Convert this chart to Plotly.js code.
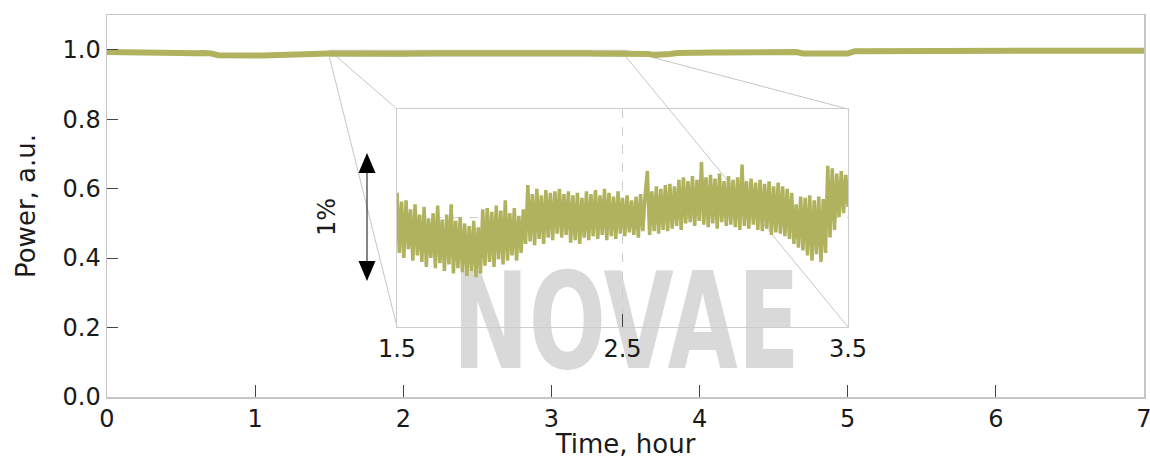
<!DOCTYPE html>
<html><head><meta charset="utf-8">
<script src="https://cdn.plot.ly/plotly-3.0.1.min.js"></script>
<style>html,body{margin:0;padding:0;background:#fff}#chart{width:1150px;height:459px}</style>
</head><body><div id="chart"></div>
<script>
// ---- data: main record (hours 0..7, sampled every 0.05 h) ----
const mainStartHour = 0;
const mainStepHour = 0.05;
const mainPower = [
 0.9935,0.9930,0.9912,0.9908,0.9906,0.9909,0.9905,0.9907,0.9904,0.9906,
 0.9903,0.9905,0.9902,0.9904,0.9895,0.9840,0.9832,0.9836,0.9830,0.9835,
 0.9833,0.9837,0.9845,0.9872,0.9878,0.9881,0.9879,0.9884,0.9886,0.9888,
 0.9893,0.9890,0.9885,0.9884,0.9880,0.9879,0.9876,0.9875,0.9886,0.9887,
 0.9886,0.9888,0.9900,0.9901,0.9903,0.9901,0.9900,0.9902,0.9901,0.9903,
 0.9901,0.9902,0.9905,0.9906,0.9907,0.9910,0.9912,0.9913,0.9912,0.9913,
 0.9911,0.9912,0.9909,0.9908,0.9905,0.9899,0.9894,0.9892,0.9905,0.9916,
 0.9918,0.9915,0.9905,0.9880,0.9852,0.9845,0.9875,0.9905,0.9915,0.9918,
 0.9920,0.9919,0.9921,0.9920,0.9922,0.9924,0.9925,0.9928,0.9932,0.9935,
 0.9936,0.9937,0.9938,0.9935,0.9893,0.9889,0.9891,0.9888,0.9890,0.9887,
 0.9892,0.9958,0.9960,0.9962,0.9961,0.9963,0.9962,0.9964,0.9963,0.9965,
 0.9964,0.9966,0.9965,0.9964,0.9966,0.9965,0.9967,0.9966,0.9965,0.9967,
 0.9969,0.9966,0.9968,0.9970,0.9967,0.9969,0.9971,0.9968,0.9970,0.9972,
 0.9969,0.9971,0.9968,0.9970,0.9972,0.9969,0.9971,0.9970,0.9968,0.9970,
 0.9969
];
// ---- data: zoomed record (hours 1.5..3.5, sampled every 0.01 h) ----
const insetStartHour = 1.5;
const insetStepHour = 0.01;
const insetPower = [
 0.9919,0.9872,0.9912,0.9868,0.9913,0.9875,0.9906,0.9866,0.9910,0.9870,
 0.9902,0.9865,0.9908,0.9861,0.9899,0.9868,0.9903,0.9860,0.9909,0.9864,
 0.9898,0.9858,0.9902,0.9863,0.9910,0.9856,0.9897,0.9860,0.9900,0.9857,
 0.9895,0.9854,0.9893,0.9858,0.9897,0.9853,0.9892,0.9856,0.9906,0.9862,
 0.9907,0.9865,0.9904,0.9861,0.9909,0.9867,0.9905,0.9863,0.9913,0.9866,
 0.9903,0.9870,0.9907,0.9866,0.9901,0.9872,0.9906,0.9879,0.9925,0.9881,
 0.9918,0.9878,0.9922,0.9883,0.9917,0.9879,0.9921,0.9884,0.9919,0.9882,
 0.9920,0.9887,0.9922,0.9884,0.9918,0.9886,0.9920,0.9880,0.9917,0.9882,
 0.9919,0.9879,0.9915,0.9884,0.9920,0.9882,0.9918,0.9885,0.9921,0.9883,
 0.9917,0.9886,0.9922,0.9882,0.9919,0.9885,0.9916,0.9883,0.9920,0.9887,
 0.9915,0.9885,0.9917,0.9888,0.9913,0.9886,0.9916,0.9884,0.9918,0.9889,
 0.9917,0.9936,0.9886,0.9920,0.9889,0.9924,0.9887,0.9922,0.9890,0.9925,
 0.9889,0.9926,0.9891,0.9924,0.9893,0.9929,0.9890,0.9931,0.9895,0.9928,
 0.9896,0.9932,0.9893,0.9929,0.9897,0.9943,0.9894,0.9931,0.9892,0.9933,
 0.9895,0.9930,0.9891,0.9934,0.9896,0.9928,0.9893,0.9932,0.9894,0.9929,
 0.9892,0.9931,0.9890,0.9941,0.9893,0.9928,0.9891,0.9930,0.9894,0.9927,
 0.9890,0.9929,0.9889,0.9926,0.9891,0.9928,0.9886,0.9924,0.9888,0.9927,
 0.9887,0.9924,0.9885,0.9922,0.9883,0.9919,0.9879,0.9910,0.9876,0.9916,
 0.9874,0.9915,0.9870,0.9917,0.9866,0.9913,0.9871,0.9916,0.9865,0.9914,
 0.9872,0.9940,0.9884,0.9938,0.9890,0.9934,0.9900,0.9936,0.9903,0.9933,
 0.9908
];
// ---- axes / labels ----
const xTickVals = [0,1,2,3,4,5,6,7];
const xTickText = ['0','1','2','3','4','5','6','7'];
const yTickVals = [0,0.2,0.4,0.6,0.8,1.0];
const yTickText = ['0.0','0.2','0.4','0.6','0.8','1.0'];
const insetXRange = [1.5, 3.5];
const insetTickVals = [1.5, 2.5, 3.5];
const insetTickText = ['1.5','2.5','3.5'];
const insetYRange = [0.98141, 0.99844];
const insetGridY = [0.99];
const arrowCenter = 0.99;   // centre of the 1% scale arrow
const arrowSpan = 0.01;     // 1%
const arrowLabel = '1%';
const xTitle = 'Time, hour';
const yTitle = 'Power, a.u.';
const watermark = 'NOVAE';

// ---- styling / geometry ----
const W = 1150, H = 459;
const M = {l:107, r:6, t:15, b:62};
const plotW = W - M.l - M.r, plotH = H - M.t - M.b;
const mainXRange = [0, 7], mainYRange = [0, 1.1];
const insetDomX = [0.2797, 0.7146], insetDomY = [0.1832, 0.7539];
const olive = '#b0b25e';
const frame = '#c6c6c6';
const FONT = 'DejaVu Sans, Liberation Sans, sans-serif';

function mainXfromPaper(p){ return mainXRange[0] + p*(mainXRange[1]-mainXRange[0]); }
function mainYfromPaper(p){ return mainYRange[0] + p*(mainYRange[1]-mainYRange[0]); }
function paperYfromInset(v){ return insetDomY[0] + (v-insetYRange[0])/(insetYRange[1]-insetYRange[0])*(insetDomY[1]-insetDomY[0]); }

const traces = [
 {type:'scatter', mode:'lines', x0:mainStartHour, dx:mainStepHour, y:mainPower,
  line:{color:olive, width:6}, xaxis:'x', yaxis:'y', hoverinfo:'skip'},
 {type:'scatter', mode:'lines', x0:insetStartHour, dx:insetStepHour, y:insetPower,
  line:{color:olive, width:3.5}, xaxis:'x2', yaxis:'y2', hoverinfo:'skip'}
];

const shapes = [];
shapes.push({type:'rect', xref:'x', yref:'y', x0:insetXRange[0], x1:insetXRange[1], y0:insetYRange[0], y1:insetYRange[1],
  line:{color:frame, width:1}, layer:'below'});
const cL = mainXfromPaper(insetDomX[0]), cR = mainXfromPaper(insetDomX[1]);
const cB = mainYfromPaper(insetDomY[0]), cT = mainYfromPaper(insetDomY[1]);
[[insetXRange[0], insetYRange[1], cL, cT],
 [insetXRange[0], insetYRange[0], cL, cB],
 [insetXRange[1], insetYRange[0], cR, cB],
 [insetXRange[1], insetYRange[1], cR, cT]].forEach(s=>{
  shapes.push({type:'line', xref:'x', yref:'y', x0:s[0], y0:s[1], x1:s[2], y1:s[3], line:{color:frame, width:1}, layer:'below'});
});
const arrowX = (367 - M.l)/plotW;
const headHalf = 8.5/plotW;
const headLenPaper = 20/plotH;
const yTop = paperYfromInset(arrowCenter + arrowSpan/2);
const yBot = paperYfromInset(arrowCenter - arrowSpan/2);
shapes.push({type:'line', xref:'paper', yref:'paper', x0:arrowX, x1:arrowX, y0:yBot+headLenPaper, y1:yTop-headLenPaper, line:{color:'#333', width:1.2}});
shapes.push({type:'path', xref:'paper', yref:'paper', path:`M ${arrowX},${yTop} L ${arrowX-headHalf},${yTop-headLenPaper} L ${arrowX+headHalf},${yTop-headLenPaper} Z`, fillcolor:'#000', line:{width:0}});
shapes.push({type:'path', xref:'paper', yref:'paper', path:`M ${arrowX},${yBot} L ${arrowX-headHalf},${yBot+headLenPaper} L ${arrowX+headHalf},${yBot+headLenPaper} Z`, fillcolor:'#000', line:{width:0}});

const annotations = [
 {xref:'paper', yref:'paper', x:(626-M.l)/plotW, y:(397-322)/plotH, text:'<b>'+watermark+'</b>', showarrow:false,
  font:{family:'DejaVu Sans, sans-serif', size:133, color:'#d9d9d9'}, xanchor:'center', yanchor:'middle'},
 {xref:'paper', yref:'paper', x:(327-M.l)/plotW, y:paperYfromInset(arrowCenter), text:arrowLabel, showarrow:false,
  textangle:-90, font:{family:FONT, size:24, color:'#1a1a1a'}, xanchor:'center', yanchor:'middle'}
];

const axisCommon = {showgrid:false, zeroline:false, showline:true, mirror:true, linecolor:frame, linewidth:1.5,
  ticks:'inside', tickcolor:'#444', tickwidth:1, tickfont:{family:FONT, size:24, color:'#1a1a1a'}, automargin:false,
  ticklabeloverflow:'allow'};

const layout = {
 width:W, height:H, margin:M, paper_bgcolor:'#fff', plot_bgcolor:'rgba(0,0,0,0)', showlegend:false,
 font:{family:FONT, color:'#1a1a1a', size:24},
 xaxis:Object.assign({}, axisCommon, {range:mainXRange, tickvals:xTickVals, ticktext:xTickText, ticklen:12,
   title:{text:xTitle, font:{family:FONT, size:26, color:'#1a1a1a'}, standoff:0}}),
 yaxis:Object.assign({}, axisCommon, {range:mainYRange, tickvals:yTickVals, ticktext:yTickText, ticklen:11,
   title:{text:yTitle, font:{family:FONT, size:26, color:'#1a1a1a'}, standoff:19}}),
 xaxis2:{domain:insetDomX, anchor:'y2', range:insetXRange, tickvals:insetTickVals, ticktext:insetTickText,
   ticks:'inside', ticklen:13, tickcolor:'#444', tickwidth:1, tickfont:{family:FONT, size:24, color:'#1a1a1a'},
   ticklabeloverflow:'allow',
   showline:true, mirror:true, linecolor:'#cdcdcd', linewidth:1, showgrid:true, gridcolor:'#cdcdcd', griddash:'dash', gridwidth:1, zeroline:false},
 yaxis2:{domain:insetDomY, anchor:'x2', range:insetYRange, tickvals:insetGridY, showticklabels:false, ticks:'',
   showline:true, mirror:true, linecolor:'#cdcdcd', linewidth:1, showgrid:true, gridcolor:'#cdcdcd', griddash:'dash', gridwidth:1, zeroline:false},
 shapes:shapes, annotations:annotations
};

Plotly.newPlot('chart', traces, layout, {displayModeBar:false, staticPlot:true}).then(()=>{
  const mainSvg = document.querySelector('#chart svg.main-svg');
  const cart = mainSvg.querySelector('g.cartesianlayer');
  document.querySelectorAll('#chart g.annotation').forEach(g=>{
    const t = g.querySelector('text.annotation-text');
    if (t && t.textContent === watermark) {
      t.setAttribute('textLength', '347');
      t.setAttribute('lengthAdjust', 'spacingAndGlyphs');
      if (cart) cart.parentNode.insertBefore(g, cart);
    }
  });
});
</script></body></html>
